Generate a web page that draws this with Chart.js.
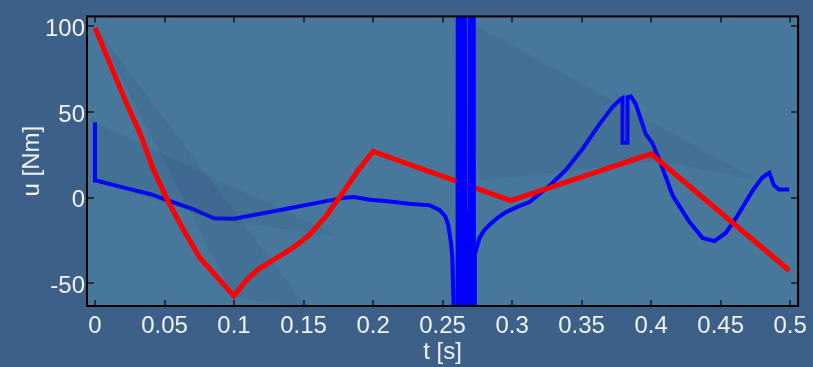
<!DOCTYPE html>
<html>
<head>
<meta charset="utf-8">
<script src="https://cdn.jsdelivr.net/npm/chart.js@4.4.0/dist/chart.umd.min.js"></script>
<style>
  html, body { margin: 0; padding: 0; background: #3d6088; }
  #wrap { width: 813px; height: 367px; }
</style>
</head>
<body>
<div id="wrap"><canvas id="myChart" width="813" height="367"></canvas></div>
<script>

// tick labels
var xTicks = [0, 0.05, 0.1, 0.15, 0.2, 0.25, 0.3, 0.35, 0.4, 0.45, 0.5];
var yTicks = [-50, 0, 50, 100];

// red series (t [s], u [Nm])
var redT = [0, 0.023, 0.0325, 0.042, 0.0517, 0.0636, 0.0754, 0.0999, 0.106, 0.111, 0.118, 0.126, 0.133, 0.14, 0.147, 0.1545, 0.16, 0.1665, 0.172, 0.1784, 0.188, 0.2, 0.299, 0.4, 0.4993];
var redU = [99, 54.4, 37.3, 16.4, -0.7, -18.7, -35, -57.3, -51, -46.5, -41.5, -37.5, -34, -30.5, -26.5, -21.5, -16.5, -10.5, -4, 3, 14.5, 26.9, -1.8, 25.5, -42.5];

// blue series, smooth parts
var blueT = [0, 0, 0.001, 0.02, 0.04, 0.052, 0.07, 0.0855, 0.1, 0.12, 0.14, 0.155, 0.169, 0.18, 0.186, 0.198, 0.212, 0.226, 0.241, 0.248, 0.252, 0.254, 0.256, 0.257, 0.2585,
             0.265,
             0.2732, 0.2766, 0.28, 0.284, 0.29, 0.296, 0.305, 0.3125, 0.327, 0.339, 0.351, 0.363, 0.372, 0.378, 0.3794, 0.3794, 0.383, 0.383, 0.3855, 0.389, 0.396, 0.401, 0.406, 0.4155, 0.4274, 0.437, 0.4454, 0.4537, 0.461, 0.473, 0.48, 0.485, 0.4885, 0.492, 0.4993];
var blueU = [44, 10, 10, 6, 2, -1.4, -6.5, -12, -12.3, -9.3, -6.2, -3.8, -1.6, 0, 0.3, -1.2, -2.2, -3.5, -4.5, -7.3, -11, -15.7, -26, -35, -80,
             null,
             -33, -23.5, -19, -15.7, -11.5, -8.3, -5, -2.6, 7, 16.4, 28.8, 43, 52.7, 57.3, 58, 32, 32, 58.5, 59, 54.4, 37.3, 31.6, 22, 1.2, -14, -23.5, -25.4, -20.6, -12, 4.1, 11.7, 14.5, 7, 4.7, 4.7];

// blue series, oscillating burst around 0.26 s
var spikeT = [0.2585, 0.2605, 0.2611, 0.2617, 0.2623, 0.2629, 0.2635, 0.2641, 0.2647, 0.2653, 0.2659, 0.2665, 0.2672, 0.268, 0.2692, 0.2698, 0.2704, 0.271, 0.2716, 0.2722, 0.2728, 0.2732];
var spikeU = [-80, -300, 300, -300, 300, -300, 300, -300, 300, -300, 300, -300, -8, -20, -80, 300, -300, 300, -300, 300, -300, -33];

// faint shaded patches
var shadeT = [[0, 0.152, 0.1], [0, 0.175, 0.0855, 0], [0.262, 0.476, 0.406, 0.277]];
var shadeU = [[100, -64, -58], [44, -22.5, -12.5, 10], [105.7, 10.5, 21.4, 10]];

function pts(t, u) {
    return t.map(function (v, i) { return {x: v, y: u[i]}; });
}

var fontFam = '"Liberation Sans", Arial, sans-serif';
var txtColor = '#f2f2f2';

var bgPlugin = {
    id: 'plotBg',
    beforeDatasetsDraw: function (chart) {
        var a = chart.chartArea, ctx = chart.ctx;
        ctx.save();
        ctx.fillStyle = '#47789b';
        ctx.fillRect(a.left, a.top, a.width, a.height);
        ctx.restore();
    },
    afterDatasetDraw: function (chart, args) {
        if (args.index !== 0) return;
        var a = chart.chartArea, ctx = chart.ctx, x = chart.scales.x, y = chart.scales.y;
        ctx.save();
        ctx.beginPath();
        ctx.rect(a.left, a.top, a.width, a.height);
        ctx.clip();
        ctx.fillStyle = 'rgba(45, 65, 110, 0.14)';
        shadeT.forEach(function (tt, k) {
            ctx.beginPath();
            tt.forEach(function (t, i) {
                var px = x.getPixelForValue(t), py = y.getPixelForValue(shadeU[k][i]);
                if (i === 0) ctx.moveTo(px, py); else ctx.lineTo(px, py);
            });
            ctx.closePath();
            ctx.fill();
        });
        ctx.restore();
    }
};

var boxPlugin = {
    id: 'box',
    afterDatasetsDraw: function (chart) {
        var a = chart.chartArea, ctx = chart.ctx, x = chart.scales.x, y = chart.scales.y;
        ctx.save();
        ctx.strokeStyle = '#1a1a1a';
        ctx.lineWidth = 1.5;
        ctx.beginPath();
        xTicks.forEach(function (v) {
            var px = Math.round(x.getPixelForValue(v));
            ctx.moveTo(px, a.bottom); ctx.lineTo(px, a.bottom - 6);
            ctx.moveTo(px, a.top); ctx.lineTo(px, a.top + 6);
        });
        yTicks.forEach(function (v) {
            var py = Math.round(y.getPixelForValue(v));
            ctx.moveTo(a.left, py); ctx.lineTo(a.left + 7, py);
            ctx.moveTo(a.right, py); ctx.lineTo(a.right - 7, py);
        });
        ctx.stroke();
        ctx.strokeStyle = '#000';
        ctx.lineWidth = 2;
        ctx.strokeRect(a.left, a.top, a.width, a.height);
        ctx.restore();
    }
};

var ctx = document.getElementById('myChart').getContext('2d');
var myChart = new Chart(ctx, {
    type: 'scatter',
    data: {
        datasets: [
            {
                label: 'u blue',
                data: pts(blueT, blueU),
                showLine: true,
                borderColor: '#0000ff',
                borderWidth: 4,
                pointRadius: 0,
                spanGaps: false,
                clip: 0,
                order: 3
            },
            {
                label: 'u red',
                data: pts(redT, redU),
                showLine: true,
                borderColor: '#ff0000',
                borderWidth: 5,
                pointRadius: 0,
                clip: 0,
                order: 2
            },
            {
                label: 'u blue burst',
                data: pts(spikeT, spikeU),
                showLine: true,
                borderColor: '#0000ff',
                borderWidth: 4,
                pointRadius: 0,
                clip: 0,
                order: 1
            }
        ]
    },
    options: {
        responsive: false,
        animation: false,
        devicePixelRatio: 1,
        layout: { padding: { left: 0, right: 14, top: 10, bottom: 0 } },
        plugins: { legend: { display: false }, tooltip: { enabled: false } },
        scales: {
            x: {
                type: 'linear',
                min: -0.00575,
                max: 0.5057,
                afterBuildTicks: function (s) { s.ticks = xTicks.map(function (v) { return {value: v}; }); },
                afterFit: function (s) { s.height = 61; },
                grid: { display: false, drawTicks: false },
                border: { display: false },
                ticks: {
                    color: txtColor,
                    font: { family: fontFam, size: 24 },
                    padding: 6,
                    maxRotation: 0,
                    autoSkip: false,
                    callback: function (v) { return String(v); }
                },
                title: {
                    display: true,
                    text: 't [s]',
                    color: txtColor,
                    font: { family: fontFam, size: 24 },
                    padding: { top: 0, bottom: 0 }
                }
            },
            y: {
                min: -63.2,
                max: 105.7,
                afterBuildTicks: function (s) { s.ticks = yTicks.map(function (v) { return {value: v}; }); },
                afterFit: function (s) { s.width = 87; },
                grid: { display: false, drawTicks: false },
                border: { display: false },
                ticks: {
                    color: txtColor,
                    font: { family: fontFam, size: 24 },
                    padding: 2,
                    labelOffset: 3,
                    callback: function (v) { return String(v); }
                },
                title: {
                    display: true,
                    text: 'u [Nm]',
                    color: txtColor,
                    font: { family: fontFam, size: 24 },
                    padding: { top: 18, bottom: 0 }
                }
            }
        }
    },
    plugins: [bgPlugin, boxPlugin]
});

</script>
</body>
</html>
